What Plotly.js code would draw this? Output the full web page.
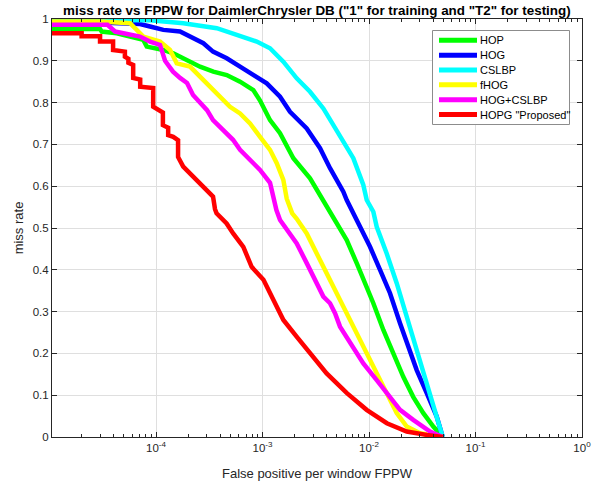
<!DOCTYPE html>
<html>
<head>
<meta charset="utf-8">
<script src="https://cdn.plot.ly/plotly-3.0.1.min.js"></script>
<style>
html,body{margin:0;padding:0;background:#fff;}
#chart{width:603px;height:483px;}
</style>
</head>
<body>
<div id="chart"></div>
<script>
// ---- Data ----
const seriesNames = ["HOP", "HOG", "CSLBP", "fHOG", "HOG+CSLBP", "HOPG \"Proposed\""];
const seriesColors = ["#00ff00", "#0000ff", "#00ffff", "#ffff00", "#ff00ff", "#ff0000"];

const hopX = [1.05e-5,2.98e-5,3.09e-5,4.28e-5,5.7e-5,7.6e-5,8.18e-5,1.171e-4,1.453e-4,1.942e-4,2.589e-4,3.451e-4,4.612e-4,6.15e-4,8.197e-4,9.473e-4,1.095e-3,1.176e-3,1.46e-3,1.747e-3,1.947e-3,2.793e-3,3.724e-3,4.621e-3,6.174e-3,7.665e-3,9.515e-3,1.098e-2,1.363e-2,1.691e-2,2.099e-2,2.6e-2,3.235e-2,4.017e-2,4.92e-2];
const hopY = [0.976,0.976,0.970,0.966,0.958,0.950,0.934,0.926,0.918,0.902,0.886,0.874,0.866,0.850,0.830,0.805,0.770,0.758,0.727,0.687,0.667,0.619,0.567,0.527,0.471,0.416,0.360,0.320,0.256,0.200,0.144,0.096,0.057,0.025,0];

const hogX = [1.05e-5,2.98e-5,7.07e-5,8.78e-5,1.171e-4,1.68e-4,2.085e-4,2.781e-4,3.429e-4,4.612e-4,6.15e-4,8.197e-4,1.095e-3,1.46e-3,1.812e-3,2.6e-3,3.467e-3,4.303e-3,5.738e-3,6.174e-3,7.665e-3,1.022e-2,1.269e-2,1.575e-2,1.955e-2,2.259e-2,2.805e-2,3.482e-2,4.323e-2,4.92e-2];
const hogY = [0.996,0.993,0.988,0.982,0.974,0.970,0.958,0.942,0.922,0.906,0.886,0.866,0.846,0.814,0.778,0.738,0.691,0.643,0.587,0.567,0.519,0.455,0.400,0.344,0.272,0.224,0.160,0.105,0.049,0];

const cslbpX = [1.05e-5,8.78e-5,1.804e-4,3.715e-4,5.725e-4,8.821e-4,1.176e-3,1.568e-3,2.095e-3,2.793e-3,3.724e-3,4.621e-3,5.738e-3,7.122e-3,8.841e-3,9.515e-3,1.098e-2,1.181e-2,1.466e-2,1.82e-2,2.259e-2,2.805e-2,3.482e-2,4.323e-2,4.92e-2];
const cslbpY = [0.998,0.997,0.990,0.978,0.962,0.946,0.930,0.898,0.858,0.826,0.786,0.746,0.706,0.667,0.603,0.567,0.539,0.503,0.439,0.368,0.288,0.208,0.120,0.049,0];

const fhogX = [1.05e-5,3.0e-5,5.7e-5,6.59e-5,7.6e-5,1.09e-4,1.353e-4,1.453e-4,1.564e-4,2.085e-4,2.589e-4,3.214e-4,3.99e-4,4.952e-4,6.15e-4,7.632e-4,9.473e-4,1.176e-3,1.36e-3,1.568e-3,1.687e-3,1.9e-3,2.095e-3,2.6e-3,3.228e-3,4.007e-3,4.974e-3,6.174e-3,7.665e-3,9.515e-3,1.181e-2,1.466e-2,1.82e-2,2.259e-2,3.012e-2,4.92e-2];
const fhogY = [0.994,0.994,0.990,0.974,0.958,0.946,0.926,0.910,0.894,0.886,0.862,0.838,0.814,0.790,0.774,0.750,0.718,0.687,0.655,0.615,0.570,0.535,0.522,0.487,0.439,0.392,0.344,0.296,0.248,0.200,0.152,0.105,0.057,0.025,0.009,0];

const hogCslbpX = [1.05e-5,3.5e-5,4.12e-5,7.07e-5,8.78e-5,1.09e-4,1.215e-4,1.296e-4,1.444e-4,1.68e-4,1.954e-4,2.225e-4,2.589e-4,3.012e-4,3.429e-4,4.257e-4,5.284e-4,6.15e-4,7.632e-4,9.473e-4,1.176e-3,1.25e-3,1.35e-3,1.46e-3,1.687e-3,2.095e-3,2.6e-3,3.112e-3,3.724e-3,4.303e-3,4.795e-3,5.342e-3,6.632e-3,8.841e-3,1.181e-2,1.575e-2,1.955e-2,2.6e-2,3.74e-2,4.92e-2];
const hogCslbpY = [0.986,0.986,0.970,0.958,0.946,0.938,0.900,0.890,0.874,0.859,0.847,0.818,0.799,0.782,0.758,0.734,0.711,0.687,0.663,0.639,0.608,0.575,0.543,0.519,0.495,0.463,0.416,0.376,0.336,0.320,0.296,0.264,0.224,0.176,0.136,0.096,0.065,0.041,0.013,0];

const hopgX = [1.05e-5,2.0e-5,2.0e-5,2.98e-5,2.98e-5,3.95e-5,3.95e-5,5.1e-5,5.1e-5,5.5e-5,5.5e-5,6.1e-5,6.1e-5,7.1e-5,7.1e-5,8.8e-5,9.4e-5,9.4e-5,1.04e-4,1.16e-4,1.16e-4,1.30e-4,1.30e-4,1.45e-4,1.61e-4,1.61e-4,1.8e-4,2.0e-4,2.43e-4,3.0e-4,3.43e-4,3.58e-4,3.7e-4,4.6e-4,5.3e-4,6.6e-4,7.9e-4,1.02e-3,1.22e-3,1.57e-3,2.09e-3,2.79e-3,4.0e-3,6.2e-3,9.5e-3,1.47e-2,2.26e-2,3.48e-2,4.92e-2];
const hopgY = [0.966,0.966,0.959,0.959,0.946,0.946,0.926,0.922,0.910,0.905,0.895,0.890,0.859,0.855,0.838,0.835,0.835,0.790,0.782,0.776,0.746,0.740,0.722,0.718,0.710,0.670,0.647,0.635,0.611,0.587,0.575,0.545,0.535,0.511,0.487,0.455,0.407,0.376,0.336,0.280,0.240,0.200,0.152,0.105,0.065,0.033,0.013,0.005,0];

const xTickVals = [1e-4, 1e-3, 1e-2, 1e-1, 1];
const xTickText = ["10<sup>-4</sup>", "10<sup>-3</sup>", "10<sup>-2</sup>", "10<sup>-1</sup>", "10<sup>0</sup>"];
const yTickVals = [0,0.1,0.2,0.3,0.4,0.5,0.6,0.7,0.8,0.9,1];
const yTickText = ["0","0.1","0.2","0.3","0.4","0.5","0.6","0.7","0.8","0.9","1"];

// ---- Build traces ----
const xs = [hopX, hogX, cslbpX, fhogX, hogCslbpX, hopgX];
const ys = [hopY, hogY, cslbpY, fhogY, hogCslbpY, hopgY];
const traces = seriesNames.map((name, i) => ({
  type: 'scatter', mode: 'lines', name: name,
  x: xs[i], y: ys[i],
  line: {color: seriesColors[i], width: 4.5},
  showlegend: false
}));

// ---- Legend box (MATLAB style, compact rows) drawn in paper coordinates ----
const plotW = 530, plotH = 418;          // plot area size in px
const px2x = p => (p - 52) / plotW;      // page px -> paper x
const py2y = p => (437 - p) / plotH;     // page px -> paper y
const shapes = [{
  type: 'rect', xref: 'paper', yref: 'paper',
  x0: px2x(432.5), x1: px2x(569.5), y0: py2y(124.5), y1: py2y(30.5),
  line: {color: '#8c8c8c', width: 1}, fillcolor: '#ffffff', layer: 'above'
}];
const annotations = [];
seriesNames.forEach((name, i) => {
  const rowY = 40.3 + i * 14.85;
  shapes.push({
    type: 'line', xref: 'paper', yref: 'paper',
    x0: px2x(439), x1: px2x(477), y0: py2y(rowY), y1: py2y(rowY),
    line: {color: seriesColors[i], width: 5}, layer: 'above'
  });
  annotations.push({
    xref: 'paper', yref: 'paper', x: px2x(477.5), y: py2y(rowY),
    xanchor: 'left', yanchor: 'middle', showarrow: false,
    text: name,
    font: {size: 11, color: '#000000'}
  });
});

const axisColor = '#262626';
const layout = {
  width: 603, height: 483,
  margin: {l: 52, r: 21, t: 19, b: 46},
  paper_bgcolor: '#ffffff', plot_bgcolor: '#ffffff',
  font: {family: 'Arial, "Liberation Sans", Helvetica, sans-serif', size: 11, color: axisColor},
  title: {
    text: 'miss rate vs FPPW for DaimlerChrysler DB ("1" for training and "T2" for testing)',
    font: {size: 13.4, color: '#000000', weight: 'bold'},
    x: 0.5255, xanchor: 'center', y: 0.979, yanchor: 'middle'
  },
  xaxis: {
    type: 'log', range: [-4.977, 0],
    tickvals: xTickVals, ticktext: xTickText,
    ticks: 'inside', ticklen: 5, tickcolor: axisColor, tickwidth: 1,
    showline: true, linecolor: axisColor, linewidth: 1, mirror: 'ticks',
    showgrid: true, gridcolor: '#dfdfdf', gridwidth: 1,
    zeroline: false,
    minor: {dtick: 'D1', ticks: 'inside', ticklen: 3, tickcolor: axisColor, showgrid: false},
    tickfont: {size: 11.5, color: axisColor},
    title: {text: 'False positive per window FPPW', font: {size: 13, color: axisColor}, standoff: 16},
    automargin: false
  },
  yaxis: {
    range: [0, 1], tickvals: yTickVals, ticktext: yTickText,
    ticks: 'inside', ticklen: 5, tickcolor: axisColor, tickwidth: 1,
    showline: true, linecolor: axisColor, linewidth: 1, mirror: 'ticks',
    showgrid: true, gridcolor: '#dfdfdf', gridwidth: 1,
    zeroline: false,
    tickfont: {size: 11.5, color: axisColor},
    title: {text: 'miss rate', font: {size: 13, color: axisColor}, standoff: 6},
    automargin: false
  },
  shapes: shapes,
  annotations: annotations,
  showlegend: false
};

Plotly.newPlot('chart', traces, layout, {displayModeBar: false, staticPlot: true});
</script>
</body>
</html>
